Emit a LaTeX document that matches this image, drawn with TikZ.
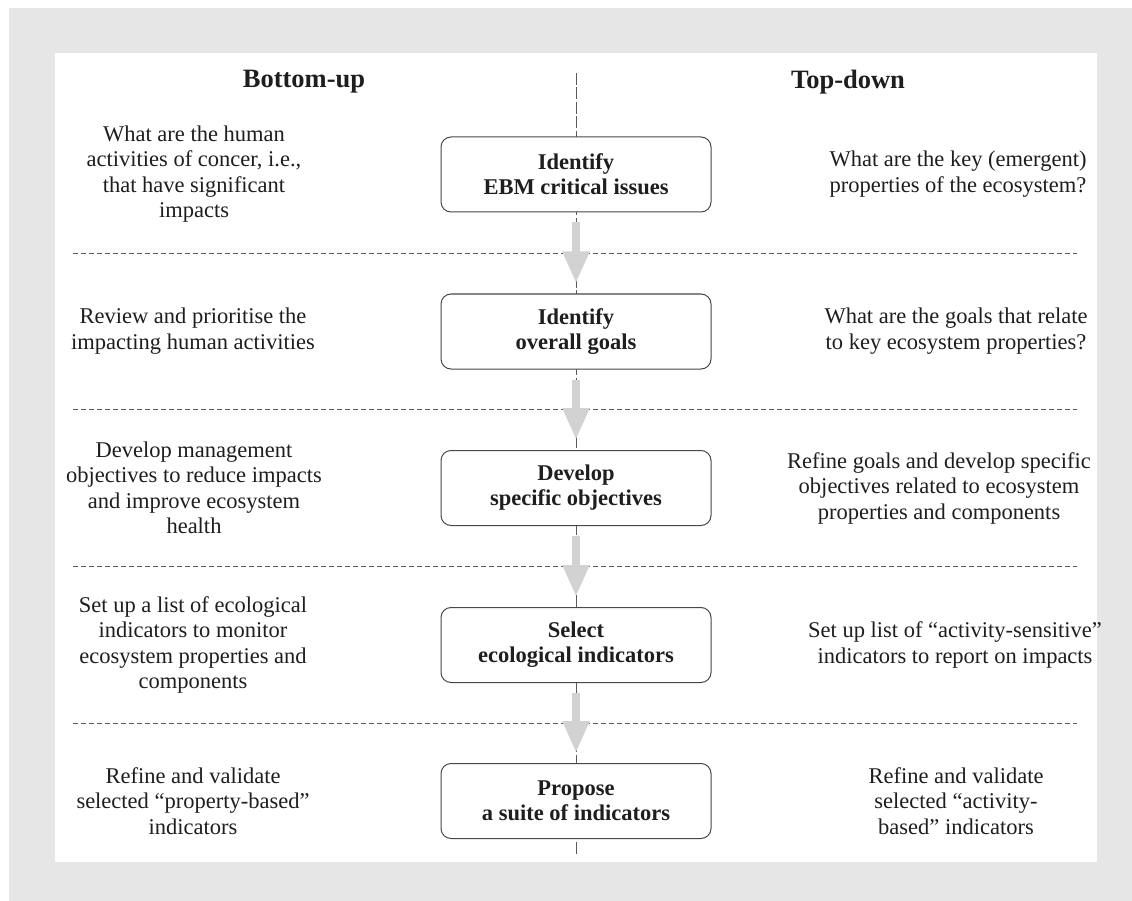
\documentclass[tikz,border=0pt]{standalone}
\usepackage{fontspec}
\setmainfont{Liberation Serif}
\usetikzlibrary{arrows.meta}
\definecolor{framegrey}{HTML}{E6E6E6}
\definecolor{inkgrey}{HTML}{1E1E1E}
\definecolor{rulegrey}{HTML}{5A5A5A}
\definecolor{arrowgrey}{HTML}{D2D2D2}
\begin{document}
\begin{tikzpicture}[x=1pt,y=-1pt,
  every node/.style={text=inkgrey, inner sep=0pt},
  heading/.style={font=\fontsize{26.5}{30}\selectfont\bfseries},
  sidetext/.style={font=\fontsize{22.5}{25.5}\selectfont, align=center},
  stagebox/.style={draw=rulegrey!80!black, line width=1pt, rounded corners=10pt,
    fill=white, minimum width=270pt, minimum height=75pt, align=center,
    font=\fontsize{22.5}{25}\selectfont\bfseries},
  rowrule/.style={draw=rulegrey, line width=0.9pt, dash pattern=on 5pt off 3pt},
  axisrule/.style={draw=rulegrey, line width=1pt, dash pattern=on 12pt off 2.5pt},
  flow/.style={draw=arrowgrey, line width=8pt,
    -{Triangle[width=25pt,length=32pt]}, shorten <=10pt, shorten >=10pt}
]
% frame and panel
\useasboundingbox (0,0) rectangle (1132,901);
\fill[framegrey] (9,8) rectangle (1132,901);
\fill[white] (55,53) rectangle (1097,862);

% central axis
\coordinate (axtop) at (576,73);
\coordinate (axbot) at (576,855);
\draw[axisrule] (axtop) -- (axbot);

% row separators
\foreach \y in {253,409,566,723}{
  \draw[rowrule] (73,\y) -- (1077,\y);
}

% column headings
\node[heading] (hbu) at (304,82) {Bottom-up};
\node[heading] (htd) at (848,82) {Top-down};

% central stages
\node[stagebox] (s1) at (576,174.5) {Identify\\EBM critical issues};
\node[stagebox] (s2) at (576,331.5) {Identify\\overall goals};
\node[stagebox] (s3) at (576,488) {Develop\\specific objectives};
\node[stagebox] (s4) at (576,645) {Select\\ecological indicators};
\node[stagebox] (s5) at (576,801) {Propose\\a suite of indicators};

% flow arrows
\draw[flow] (s1.south) -- (s2.north);
\draw[flow] (s2.south) -- (s3.north);
\draw[flow] (s3.south) -- (s4.north);
\draw[flow] (s4.south) -- (s5.north);

% bottom-up column
\node[sidetext] (l1) at (194,174) {What are the human\\activities of concer, i.e.,\\that have significant\\impacts};
\node[sidetext] (l2) at (193,331) {Review and prioritise the\\impacting human activities};
\node[sidetext] (l3) at (194,488) {Develop management\\objectives to reduce impacts\\and improve ecosystem\\health};
\node[sidetext] (l4) at (193,645) {Set up a list of ecological\\indicators to monitor\\ecosystem properties and\\components};
\node[sidetext] (l5) at (193,801) {Refine and validate\\selected “property-based”\\indicators};

% top-down column
\node[sidetext] (r1) at (958,174) {What are the key (emergent)\\properties of the ecosystem?};
\node[sidetext] (r2) at (956,331) {What are the goals that relate\\to key ecosystem properties?};
\node[sidetext] (r3) at (939,488) {Refine goals and develop specific\\objectives related to ecosystem\\properties and components};
\node[sidetext] (r4) at (955,645) {Set up list of “activity-sensitive”\\indicators to report on impacts};
\node[sidetext] (r5) at (956,801) {Refine and validate\\selected “activity-\\based” indicators};
\end{tikzpicture}
\end{document}
